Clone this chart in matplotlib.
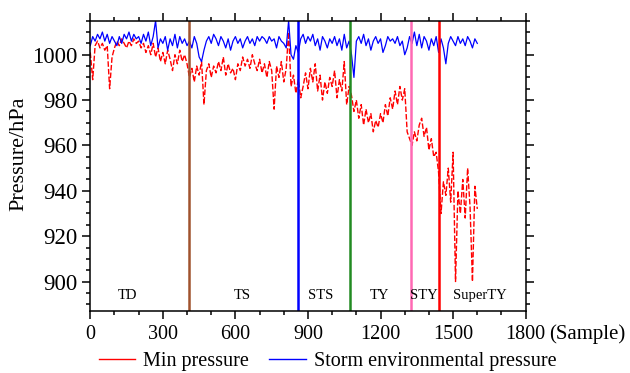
import numpy as np
import matplotlib
matplotlib.use("Agg")
import matplotlib.pyplot as plt
from matplotlib.ticker import MultipleLocator
from matplotlib.lines import Line2D

plt.rcParams['font.family'] = ['Liberation Serif', 'DejaVu Serif']

# sample index (every 10 samples)
samples = np.arange(0, 1610, 10)

# storm environmental pressure (hPa)
env_pressure = [
    1004, 1008, 1006, 1009, 1007, 1010, 1006, 1009, 1005, 1008,
    1006, 1004, 1008, 1005, 1009, 1007, 1010, 1006, 1009, 1007,
    1008, 1005, 1009, 1006, 1010, 1004, 1008, 1015, 1003, 1007,
    1005, 1008, 1002, 1007, 1004, 1009, 1003, 1008, 1005, 1007,
    1004, 1006, 1003, 1008, 1005, 999, 997, 1002, 1006, 1008,
    1005, 1009, 1007, 1004, 1008, 1006, 1003, 1007, 1002, 1006,
    1008, 1005, 1007, 1003, 1006, 1008, 1005, 1007, 1004, 1008,
    1006, 1008, 1007, 1005, 1008, 1006, 1007, 1003, 1008, 1006,
    1005, 1003, 1015, 1000, 998, 1004, 1001, 1007, 1009, 1005,
    1008, 1006, 1009, 1004, 1007, 1002, 1008, 1006, 1003, 1007,
    1005, 1008, 1004, 1007, 1002, 1009, 1003, 1006, 1000, 990,
    1006, 1008, 1005, 1009, 1004, 1007, 1002, 1006, 1008, 1005,
    1007, 1001, 1004, 1008, 1006, 1007, 1005, 1008, 1004, 1006,
    1000, 1003, 1008, 1005, 1010, 1004, 1009, 1003, 1008, 1006,
    1002, 1007, 1004, 1008, 1001, 1007, 1003, 996, 1005, 1008,
    1006, 1004, 1008, 1005, 1007, 1004, 1008, 1006, 1003, 1007,
    1005,
]

# minimum pressure (hPa)
min_pressure = [
    1001, 989, 1004, 1006, 1003, 1005, 1002, 1004, 985, 999,
    1003, 1006, 1004, 1007, 1005, 1003, 1006, 1004, 1007, 1005,
    1006, 1003, 1005, 1001, 1004, 1000, 1005, 999, 1003, 997,
    1001, 996, 1002, 998, 993, 1000, 996, 1002, 997, 1000,
    996, 990, 994, 988, 995, 991, 997, 978, 993, 996,
    990, 995, 992, 997, 993, 999, 991, 996, 992, 994,
    989, 996, 993, 999, 995, 998, 994, 1000, 996, 993,
    998, 992, 996, 990, 997, 993, 976, 995, 990, 997,
    988, 994, 1010, 986, 991, 983, 989, 981, 986, 992,
    985, 994, 988, 996, 984, 991, 980, 988, 983, 990,
    986, 993, 981, 989, 984, 997, 978, 986, 982, 975,
    980, 972, 978, 969, 976, 970, 974, 966, 971, 968,
    974, 970, 978, 973, 981, 976, 984, 978, 986, 980,
    985, 966, 963, 960, 966, 962, 969, 972, 964, 968,
    958, 963, 955, 957, 948, 930, 944, 938, 950, 935,
    957, 900, 940, 930, 945, 928, 950, 933, 900, 942,
    932,
]

# intensity class boundaries and labels
boundaries = [408, 858, 1073, 1324, 1442]
boundary_colors = ['#a0522d', '#0000ff', '#228b22', '#ff69b4', '#ff0000']
class_labels = ['TD', 'TS', 'STS', 'TY', 'STY', 'SuperTY']
label_x = [155, 627, 953, 1197, 1379, 1610]

fig = plt.figure(figsize=(6.3, 3.73), dpi=100)
ax = fig.add_axes([0.1433, 0.1662, 0.6911, 0.7783])

ax.plot(samples, min_pressure, color='red', lw=1.0, linestyle='--', dashes=(4, 1.5))
ax.plot(samples, env_pressure, color='blue', lw=0.9)

for b, c in zip(boundaries, boundary_colors):
    ax.axvline(b, color=c, lw=1.8)

for lab, x in zip(class_labels, label_x):
    ax.text(x, 894.0, lab, ha='center', va='center', fontsize=10.5)

ax.set_xlim(0, 1800)
ax.set_ylim(887, 1015)
ax.xaxis.set_major_locator(MultipleLocator(300))
ax.xaxis.set_minor_locator(MultipleLocator(100))
ax.set_yticks(np.arange(900, 1001, 20))
ax.yaxis.set_minor_locator(MultipleLocator(5))

ax.tick_params(which='both', direction='out', top=True, right=True, width=1.1)
ax.tick_params(axis='x', labelsize=14.5, pad=4)
ax.tick_params(axis='y', labelsize=16.5, pad=3)
ax.tick_params(which='major', length=6)
ax.tick_params(which='minor', length=3)
for s in ax.spines.values():
    s.set_linewidth(1.1)

ax.set_ylabel('Pressure/hPa', fontsize=16)
ax.yaxis.set_label_coords(-0.143, 0.54)
fig.text(0.871, 0.1046, '(Sample)', ha='left', va='center', fontsize=15)

handles = [Line2D([], [], color='red', lw=1.0), Line2D([], [], color='blue', lw=1.0)]
fig.legend(handles, ['Min pressure', 'Storm environmental pressure'], loc='center',
           bbox_to_anchor=(0.52, 0.03), ncol=2, frameon=False, fontsize=14.5,
           handlelength=1.8, columnspacing=1.0, handletextpad=0.4, borderpad=0)

fig.savefig('out.png', dpi=100)
